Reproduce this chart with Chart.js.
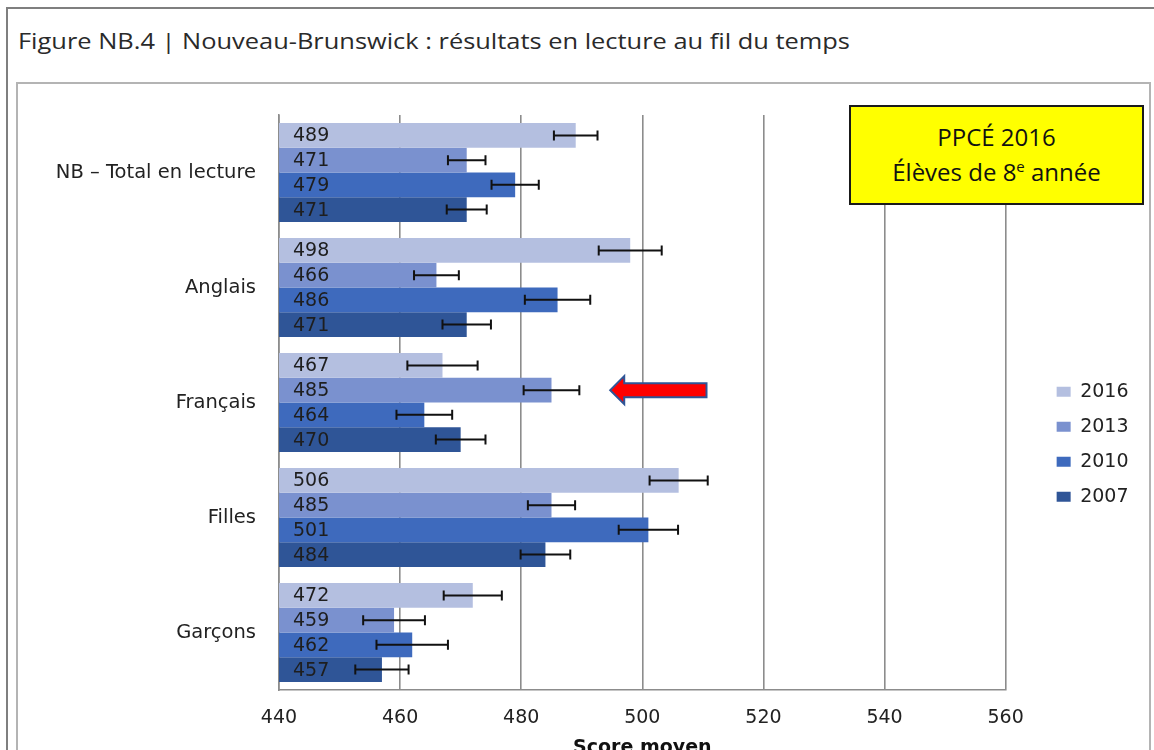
<!DOCTYPE html>
<html lang="fr">

<head>
    <meta charset="utf-8">
    <title>Figure NB.4</title>
    <script src="https://cdn.jsdelivr.net/npm/chart.js"></script>
    <style>
        html,
        body {
            margin: 0;
            padding: 0;
            background: #fff;
            overflow: hidden;
        }
        
        .outer_frame {
            position: absolute;
            left: 6px;
            top: 7px;
            width: 1170px;
            height: 800px;
            border: 2px solid #7f7f7f;
        }
        
        .inner_frame {
            position: absolute;
            left: 16px;
            top: 82px;
            width: 1131px;
            height: 800px;
            border: 2px solid #b4b4b4;
        }
        
        .fig_title {
            position: absolute;
            left: 18px;
            top: 24px;
            font-family: "Open Sans", sans-serif;
            font-size: 22px;
            line-height: 32px;
            color: #2a2a2a;
            white-space: nowrap;
            transform-origin: 0 0;
            transform: scaleX(1.155);
        }
        
        #chartbox {
            position: absolute;
            left: 0;
            top: 0;
            width: 1154px;
            height: 790px;
        }
        
        .note_box {
            position: absolute;
            left: 849px;
            top: 105px;
            width: 291px;
            height: 84px;
            border: 2px solid #1a1a1a;
            background: #ffff00;
            font-family: "Open Sans", sans-serif;
            font-size: 24px;
            line-height: 35px;
            text-align: center;
            color: #111;
            padding-top: 12px;
            box-sizing: content-box;
        }
        
        .note_box sup {
            font-size: 15px;
            line-height: 0;
        }
    </style>
</head>

<body>
    <div class="outer_frame"></div>
    <div class="inner_frame"></div>
    <div class="fig_title">Figure NB.4 | Nouveau-Brunswick : résultats en lecture au fil du temps</div>
    <div id="chartbox">
        <canvas id="readingChart"></canvas>
    </div>
    <div class="note_box">PPCÉ 2016<br>Élèves de 8<sup>e</sup> année</div>

    <script>
        // categories and series
        const categories = ["NB \u2013 Total en lecture", "Anglais", "Français", "Filles", "Garçons"];
        const years = ["2016", "2013", "2010", "2007"];
        const colors = ["#b4bfe0", "#7a91cf", "#3e6abd", "#2f5597"];

        const scores2016 = [489, 498, 467, 506, 472];
        const scores2013 = [471, 466, 485, 485, 459];
        const scores2010 = [479, 486, 464, 501, 462];
        const scores2007 = [471, 471, 470, 484, 457];

        // half width of the confidence interval
        const err2016 = [3.6, 5.2, 5.8, 4.8, 4.8];
        const err2013 = [3.1, 3.7, 4.6, 3.9, 5.1];
        const err2010 = [3.9, 5.4, 4.6, 4.9, 5.9];
        const err2007 = [3.3, 4.0, 4.1, 4.1, 4.4];

        const xTicks = [440, 460, 480, 500, 520, 540, 560];

        const allScores = [scores2016, scores2013, scores2010, scores2007];
        const allErrors = [err2016, err2013, err2010, err2007];

        const labelFont = {
            family: "'DejaVu Sans', sans-serif",
            size: 19
        };

        // error bars + value labels at the base of each bar
        const barExtras = {
            id: 'barExtras',
            afterDatasetsDraw(chart) {
                const ctx = chart.ctx;
                const xs = chart.scales.x;
                const baseX = xs.getPixelForValue(xs.min);
                ctx.save();
                chart.data.datasets.forEach((ds, d) => {
                    const meta = chart.getDatasetMeta(d);
                    meta.data.forEach((bar, i) => {
                        const v = ds.data[i];
                        const e = allErrors[d][i];

                        ctx.fillStyle = '#1e1e1e';
                        ctx.font = labelFont.size + "px 'DejaVu Sans', sans-serif";
                        ctx.textAlign = 'left';
                        ctx.textBaseline = 'middle';
                        ctx.fillText(String(v), baseX + 14, bar.y + 1);

                        const x1 = xs.getPixelForValue(v - e);
                        const x2 = xs.getPixelForValue(v + e);
                        ctx.strokeStyle = '#111';
                        ctx.lineWidth = 2;
                        ctx.beginPath();
                        ctx.moveTo(x1, bar.y);
                        ctx.lineTo(x2, bar.y);
                        ctx.moveTo(x1, bar.y - 5);
                        ctx.lineTo(x1, bar.y + 5);
                        ctx.moveTo(x2, bar.y - 5);
                        ctx.lineTo(x2, bar.y + 5);
                        ctx.stroke();
                    });
                });

                // red arrow pointing at Français 2013
                const target = chart.getDatasetMeta(1).data[2];
                const tip = xs.getPixelForValue(494.7);
                const tail = xs.getPixelForValue(510.6);
                const y = target.y;
                ctx.beginPath();
                ctx.moveTo(tip, y);
                ctx.lineTo(tip + 14, y - 14);
                ctx.lineTo(tip + 14, y - 7);
                ctx.lineTo(tail, y - 7);
                ctx.lineTo(tail, y + 7);
                ctx.lineTo(tip + 14, y + 7);
                ctx.lineTo(tip + 14, y + 14);
                ctx.closePath();
                ctx.fillStyle = '#ff0000';
                ctx.fill();
                ctx.strokeStyle = '#2f5597';
                ctx.lineWidth = 2;
                ctx.stroke();
                ctx.restore();
            }
        };

        const ctx = document.getElementById('readingChart');
        const readingChart = new Chart(ctx, {
            type: 'bar',
            data: {
                labels: categories,
                datasets: years.map((yr, k) => ({
                    label: yr,
                    data: allScores[k],
                    backgroundColor: colors[k],
                    borderWidth: 0,
                    barPercentage: 1.0,
                    categoryPercentage: 0.86
                }))
            },
            options: {
                indexAxis: 'y',
                responsive: true,
                maintainAspectRatio: false,
                animation: false,
                layout: {
                    padding: {
                        left: 20,
                        top: 115,
                        right: 15.5,
                        bottom: 16.6
                    }
                },
                scales: {
                    x: {
                        min: 440,
                        max: 560,
                        afterBuildTicks: s => {
                            s.ticks = xTicks.map(v => ({
                                value: v
                            }));
                        },
                        afterFit: s => {
                            s.height = 83.4;
                        },
                        grid: {
                            color: '#8c8c8c',
                            lineWidth: 1.6,
                            drawTicks: false
                        },
                        border: {
                            color: '#8c8c8c',
                            width: 1.6
                        },
                        ticks: {
                            padding: 17,
                            color: '#222',
                            font: labelFont
                        },
                        title: {
                            display: true,
                            text: 'Score moyen',
                            color: '#111',
                            font: {
                                family: "'DejaVu Sans', sans-serif",
                                size: 19,
                                weight: 'bold'
                            },
                            padding: {
                                top: 0,
                                bottom: 14
                            }
                        }
                    },
                    y: {
                        afterFit: s => {
                            s.width = 259;
                        },
                        grid: {
                            display: false,
                            drawTicks: false
                        },
                        border: {
                            color: '#8c8c8c',
                            width: 1.6
                        },
                        ticks: {
                            padding: 23,
                            color: '#222',
                            font: {
                                family: "'DejaVu Sans', sans-serif",
                                size: 19.5
                            }
                        }
                    },
                    // empty spacer between the plot and the legend
                    gap: {
                        axis: 'y',
                        type: 'category',
                        position: 'right',
                        grid: {
                            display: false
                        },
                        border: {
                            display: false
                        },
                        ticks: {
                            display: false
                        },
                        afterFit: s => {
                            s.width = 35;
                        }
                    }
                },
                plugins: {
                    legend: {
                        position: 'right',
                        labels: {
                            boxWidth: 14,
                            boxHeight: 10,
                            padding: 16,
                            color: '#222',
                            font: labelFont
                        }
                    },
                    tooltip: {
                        enabled: false
                    }
                }
            },
            plugins: [barExtras]
        });
    </script>
</body>

</html>
